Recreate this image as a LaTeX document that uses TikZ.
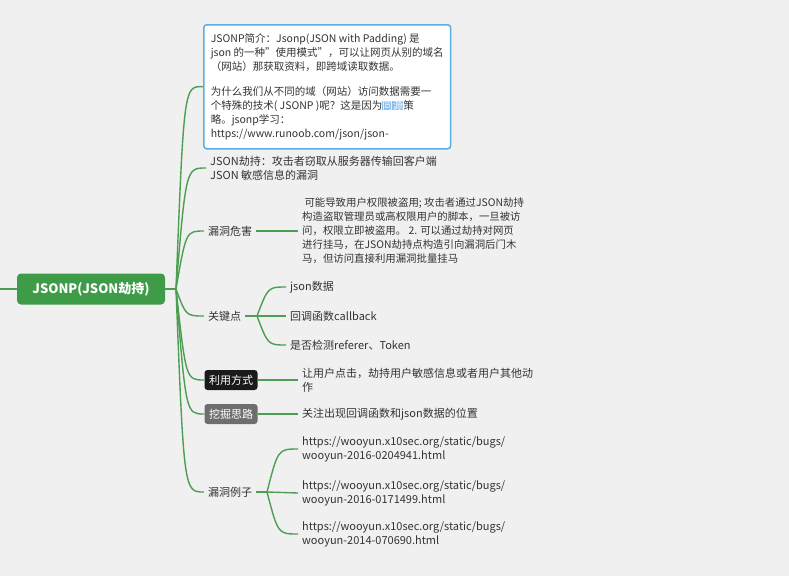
\documentclass[tikz,border=0pt]{standalone}
\usepackage{fontspec}
\setmainfont{Noto Sans CJK SC}
\usetikzlibrary{positioning}
\definecolor{bggray}{HTML}{F0F0F0}
\definecolor{mapgreen}{HTML}{3E9B48}
\definecolor{linegreen}{HTML}{4C9E52}
\definecolor{boxblue}{HTML}{5AAEE0}
\definecolor{hlblue}{HTML}{8CBDEB}
\definecolor{tagdark}{HTML}{1A1A1A}
\definecolor{taggray}{HTML}{6E6E6E}
\definecolor{txt}{HTML}{333333}
\tikzset{root/.style={rectangle,rounded corners=4pt,fill=mapgreen,text=white,font=\fontsize{13}{15}\selectfont\bfseries,minimum width=148pt,minimum height=31pt}}
\tikzset{topic/.style={anchor=west,inner xsep=4pt,inner ysep=0pt,text=txt,font=\fontsize{11}{14}\selectfont,align=left}}
\tikzset{tagbox/.style={rectangle,rounded corners=3pt,text=white,font=\fontsize{11}{13}\selectfont,minimum width=53pt,minimum height=20pt,inner sep=2pt}}
\tikzset{note/.style={rectangle,draw=boxblue,line width=1.5pt,rounded corners=3pt,fill=white,anchor=north west,inner xsep=7pt,minimum width=239pt,minimum height=124pt,text=txt,font=\fontsize{10.5}{14}\selectfont,align=left}}
\tikzset{link/.style={draw=linegreen,line width=1.4pt}}

\begin{document}
\begin{tikzpicture}[x=1pt,y=-1pt]
    \fill[bggray] (0,0) rectangle (789,576);
    \useasboundingbox (0,0) rectangle (789,576);

    \node[root] (root) at (91,289) {JSONP(JSON劫持)};
    \coordinate (west) at (0,289);
    \coordinate (hub) at (176,289);

    \node[note] (intro) at (203,24) {JSONP简介：Jsonp(JSON with Padding) 是\\
        json 的一种"使用模式"，可以让网页从别的域名\\
        （网站）那获取资料，即跨域读取数据。\\[11pt]
        为什么我们从不同的域（网站）访问数据需要一\\
        个特殊的技术( JSONP )呢？这是因为{\setlength{\fboxsep}{0pt}\colorbox{hlblue}{\textcolor{white}{同源}}}策\\
        略。jsonp学习：\\
        https://www.runoob.com/json/json-};

    \node[topic] (hijack) at (206,168) {JSON劫持：攻击者窃取从服务器传输回客户端\\JSON 敏感信息的漏洞};

    \node[topic] (harm) at (204,231) {漏洞危害};
    \node[topic,font=\fontsize{10.4}{14}\selectfont] (harmtext) at (298,231) {\ 可能导致用户权限被盗用; 攻击者通过JSON劫持\\
        构造盗取管理员或高权限用户的脚本，一旦被访\\
        问，权限立即被盗用。 2. 可以通过劫持对网页\\
        进行挂马，在JSON劫持点构造引向漏洞后门木\\
        马，但访问直接利用漏洞批量挂马};

    \node[topic] (key) at (204,316) {关键点};
    \coordinate (keyhub) at (257,316);
    \node[topic] (kjson) at (286,287) {json数据};
    \node[topic] (kcb) at (286,316) {回调函数callback};
    \node[topic] (kref) at (286,345) {是否检测referer、Token};

    \node[tagbox,fill=tagdark] (use) at (231,380) {利用方式};
    \node[topic] (usetext) at (298,380) {让用户点击，劫持用户敏感信息或者用户其他动\\作};

    \node[tagbox,fill=taggray] (dig) at (231,414) {挖掘思路};
    \node[topic] (digtext) at (298,414) {关注出现回调函数和json数据的位置};

    \node[topic] (ex) at (204,492) {漏洞例子};
    \coordinate (exhub) at (267,492);
    \node[topic] (exa) at (298,449) {https://wooyun.x10sec.org/static/bugs/\\wooyun-2016-0204941.html};
    \node[topic] (exb) at (298,493) {https://wooyun.x10sec.org/static/bugs/\\wooyun-2016-0171499.html};
    \node[topic] (exc) at (298,534) {https://wooyun.x10sec.org/static/bugs/\\wooyun-2014-070690.html};

    % main branches
    \path[link] (west) -- (root.west);
    \path[link] (root.east) -- (hub);
    \path[link] (hub) .. controls (184,86) and (184,86) .. (intro.west);
    \path[link] (hub) .. controls (186,168) and (186,168) .. (hijack.west);
    \path[link] (hub) .. controls (186,231) and (186,231) .. (harm.west);
    \path[link] (hub) .. controls (186,316) and (186,316) .. (key.west);
    \path[link] (hub) .. controls (186,380) and (186,380) .. (use.west);
    \path[link] (hub) .. controls (186,414) and (186,414) .. (dig.west);
    \path[link] (hub) .. controls (184,492) and (184,492) .. (ex.west);

    % leaves
    \path[link] (harm.east) -- (harmtext.west);
    \path[link] (key.east) -- (keyhub);
    \path[link] (keyhub) .. controls (268,287) and (268,287) .. (kjson.west);
    \path[link] (keyhub) -- (kcb.west);
    \path[link] (keyhub) .. controls (268,345) and (268,345) .. (kref.west);
    \path[link] (use.east) -- (usetext.west);
    \path[link] (dig.east) -- (digtext.west);
    \path[link] (ex.east) -- (exhub);
    \path[link] (exhub) .. controls (278,449) and (278,449) .. (exa.west);
    \path[link] (exhub) -- (exb.west);
    \path[link] (exhub) .. controls (278,534) and (278,534) .. (exc.west);
\end{tikzpicture}
\end{document}
